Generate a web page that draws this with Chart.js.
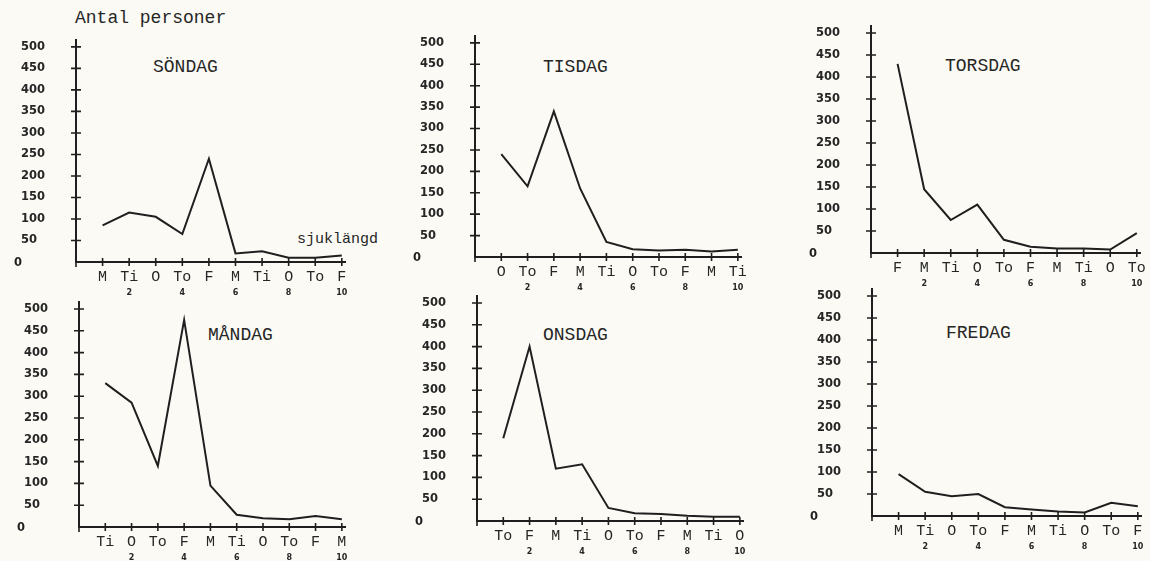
<!DOCTYPE html>
<html lang="sv">
<head>
<meta charset="UTF-8">
<title>Sjuklängd per veckodag</title>
<script src="https://cdn.jsdelivr.net/npm/chart.js"></script>
<style>
  body { margin: 0; background: #fbfaf4; width: 1150px; height: 561px; position: relative; overflow: hidden;
         font-family: "Liberation Mono", "DejaVu Sans Mono", monospace; color: #262626; }
  canvas { position: absolute; }
  .txt { position: absolute; white-space: pre; line-height: 1; }
  .title { font-size: 18px; }
</style>
</head>
<body>
<div class="txt" style="left:75px;top:9px;font-size:18px">Antal personer</div>
<div class="txt title" style="left:153px;top:58px">SÖNDAG</div>
<div class="txt title" style="left:543px;top:58px">TISDAG</div>
<div class="txt title" style="left:945px;top:57px">TORSDAG</div>
<div class="txt title" style="left:208px;top:326px">MÅNDAG</div>
<div class="txt title" style="left:543px;top:326px">ONSDAG</div>
<div class="txt title" style="left:946px;top:324px">FREDAG</div>
<div class="txt" style="left:297px;top:232px;font-size:15px">sjuklängd</div>

<script>
// weekday of first sick day -> counts per sick length (1..10 days)
const sondagLabels = ['M', 'Ti', 'O', 'To', 'F', 'M', 'Ti', 'O', 'To', 'F'];
const sondagValues = [85, 115, 105, 65, 240, 20, 25, 10, 10, 15];

const tisdagLabels = ['O', 'To', 'F', 'M', 'Ti', 'O', 'To', 'F', 'M', 'Ti'];
const tisdagValues = [240, 165, 340, 160, 35, 18, 15, 17, 13, 17];

const torsdagLabels = ['F', 'M', 'Ti', 'O', 'To', 'F', 'M', 'Ti', 'O', 'To'];
const torsdagValues = [430, 145, 75, 110, 30, 14, 10, 10, 8, 45];

const mandagLabels = ['Ti', 'O', 'To', 'F', 'M', 'Ti', 'O', 'To', 'F', 'M'];
const mandagValues = [330, 285, 140, 475, 95, 28, 20, 18, 25, 18];

const onsdagLabels = ['To', 'F', 'M', 'Ti', 'O', 'To', 'F', 'M', 'Ti', 'O'];
const onsdagValues = [190, 400, 120, 130, 30, 18, 16, 12, 10, 10];

const fredagLabels = ['M', 'Ti', 'O', 'To', 'F', 'M', 'Ti', 'O', 'To', 'F'];
const fredagValues = [95, 55, 45, 50, 20, 15, 10, 8, 30, 22];

const dayNumbers = ['', '2', '', '4', '', '6', '', '8', '', '10'];
const yStep = 50;
const yTop = 500;

const ink = '#1f1f1f';

// where each little chart sits on the page (origin pixel + px per unit)
const panels = [
  { labels: sondagLabels,  values: sondagValues,  x0: 76,  y0: 262, ux: 26.56, uy: 0.430 },
  { labels: tisdagLabels,  values: tisdagValues,  x0: 475, y0: 257, ux: 26.3,  uy: 0.428 },
  { labels: torsdagLabels, values: torsdagValues, x0: 871, y0: 253, ux: 26.6,  uy: 0.440 },
  { labels: mandagLabels,  values: mandagValues,  x0: 79,  y0: 527, ux: 26.3,  uy: 0.436 },
  { labels: onsdagLabels,  values: onsdagValues,  x0: 477, y0: 521, ux: 26.3,  uy: 0.436 },
  { labels: fredagLabels,  values: fredagValues,  x0: 872, y0: 516, ux: 26.6,  uy: 0.440 }
];

const X_MAX = 10.12, Y_MAX = 516;
const YW = 55, XH1 = 24, XH2 = 14;
const PAD = { left: 12, top: 10, right: 20, bottom: 6 };

// "+" shaped tick marks crossing both axes, plus the offset "0"
const crossTicks = {
  id: 'crossTicks',
  afterDatasetsDraw(chart) {
    const { ctx, scales: { x, y } } = chart;
    const px0 = x.getPixelForValue(0), py0 = y.getPixelForValue(0);
    ctx.save();
    ctx.strokeStyle = ink;
    ctx.lineWidth = 1.6;
    ctx.beginPath();
    x.ticks.forEach(t => {
      if (t.value <= 0) return;
      const px = x.getPixelForValue(t.value);
      ctx.moveTo(px, py0 - 4); ctx.lineTo(px, py0 + 4);
    });
    y.ticks.forEach(t => {
      if (t.value <= 0) return;
      const py = y.getPixelForValue(t.value);
      ctx.moveTo(px0 - 5, py); ctx.lineTo(px0 + 5, py);
    });
    ctx.moveTo(px0, py0); ctx.lineTo(px0, py0 + 5);
    ctx.stroke();
    ctx.fillStyle = ink;
    ctx.font = 'bold 11.5px "DejaVu Sans"';
    ctx.textAlign = 'center';
    ctx.textBaseline = 'middle';
    ctx.fillText('0', px0 - 58, py0 + 1);
    ctx.restore();
  }
};

panels.forEach(p => {
  const chartLeft = Math.round(p.x0);
  const chartRight = p.x0 + X_MAX * p.ux;
  const chartTop = p.y0 - Y_MAX * p.uy;
  const left = chartLeft - YW - PAD.left;
  const top = Math.round(chartTop - PAD.top);
  const width = Math.round(chartRight - left + PAD.right);
  const height = Math.round(p.y0 + XH1 + XH2 + PAD.bottom - top);

  const canvas = document.createElement('canvas');
  canvas.width = width;
  canvas.height = height;
  canvas.style.left = left + 'px';
  canvas.style.top = top + 'px';
  document.body.appendChild(canvas);

  new Chart(canvas.getContext('2d'), {
    type: 'line',
    data: {
      datasets: [{
        data: p.values.map((v, i) => ({ x: i + 1, y: v })),
        borderColor: ink,
        borderWidth: 2,
        pointRadius: 0,
        tension: 0,
        fill: false
      }]
    },
    options: {
      responsive: false,
      animation: false,
      layout: { padding: PAD },
      plugins: { legend: { display: false }, tooltip: { enabled: false } },
      scales: {
        x: {
          type: 'linear',
          position: 'bottom',
          min: 0,
          max: X_MAX,
          grid: { display: false, drawTicks: false },
          border: { display: true, color: ink, width: 2 },
          afterFit: s => { s.height = XH1; },
          ticks: {
            stepSize: 1,
            includeBounds: false,
            autoSkip: false,
            maxRotation: 0,
            padding: 6,
            color: '#262626',
            font: { family: '"Liberation Mono"', size: 15 },
            callback: v => (v >= 1 && v <= 10) ? p.labels[v - 1] : ''
          }
        },
        x2: {
          type: 'linear',
          position: 'bottom',
          min: 0,
          max: X_MAX,
          grid: { display: false, drawTicks: false },
          border: { display: false },
          afterFit: s => { s.height = XH2; },
          ticks: {
            stepSize: 1,
            includeBounds: false,
            autoSkip: false,
            maxRotation: 0,
            padding: 2,
            color: '#262626',
            font: { family: '"DejaVu Sans"', size: 8, weight: 'bold' },
            callback: v => (v >= 1 && v <= 10) ? dayNumbers[v - 1] : ''
          }
        },
        y: {
          min: 0,
          max: Y_MAX,
          grid: { display: false, drawTicks: false },
          border: { display: true, color: ink, width: 2 },
          afterFit: s => { s.width = YW; },
          ticks: {
            stepSize: yStep,
            includeBounds: false,
            crossAlign: 'far',
            color: '#262626',
            font: { family: '"DejaVu Sans"', size: 11.5, weight: 'bold' },
            callback: v => (v > 0 && v <= yTop) ? v : ''
          }
        }
      }
    },
    plugins: [crossTicks]
  });
});
</script>
</body>
</html>
